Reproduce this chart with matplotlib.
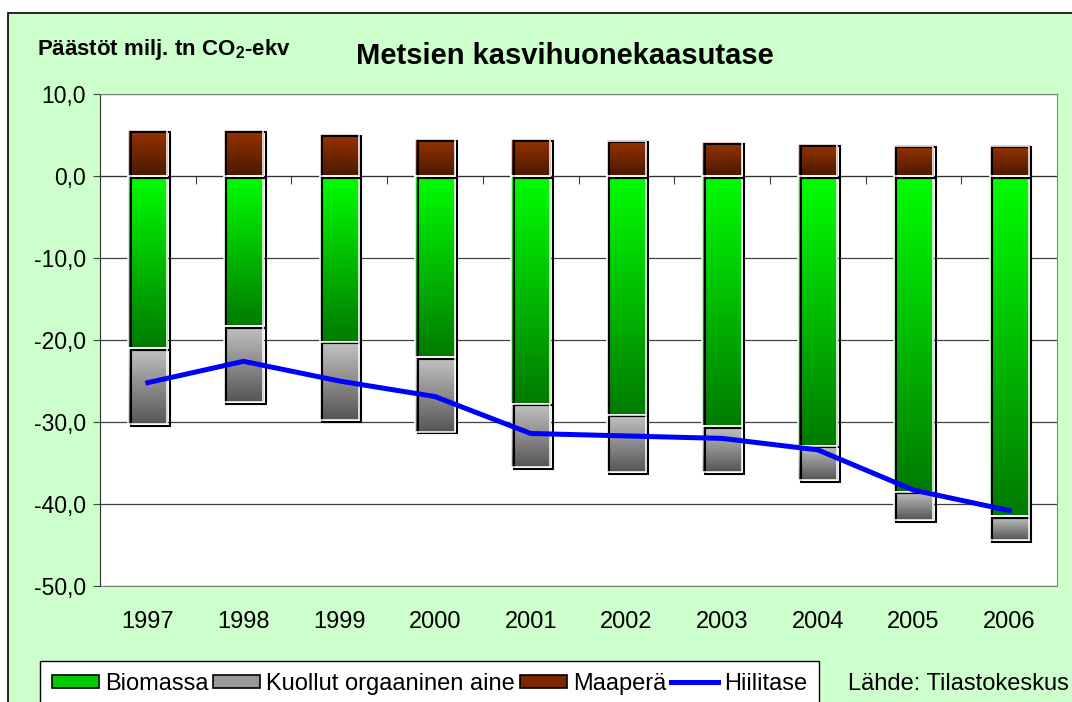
import matplotlib.pyplot as plt
import numpy as np
import matplotlib.patheffects as pe
from matplotlib.patches import Rectangle, Patch
from matplotlib.lines import Line2D
from matplotlib.colors import LinearSegmentedColormap
from matplotlib.ticker import FuncFormatter

plt.rcParams['font.family'] = ['Liberation Sans', 'DejaVu Sans']
plt.rcParams['mathtext.fontset'] = 'custom'
plt.rcParams['mathtext.rm'] = 'Liberation Sans'
plt.rcParams['mathtext.bf'] = 'Liberation Sans:bold'

# data (milj. tn CO2-ekv)
years = ['1997', '1998', '1999', '2000', '2001', '2002', '2003', '2004', '2005', '2006']
biomassa = [-21.0, -18.3, -20.2, -22.1, -27.8, -29.1, -30.5, -32.9, -38.5, -41.5]
kuollut = [-9.3, -9.3, -9.6, -9.1, -7.7, -7.0, -5.6, -4.2, -3.5, -2.9]
maapera = [5.6, 5.6, 5.1, 4.5, 4.5, 4.3, 4.1, 3.9, 3.7, 3.7]
hiilitase = [-25.2, -22.6, -25.0, -26.9, -31.4, -31.7, -32.0, -33.4, -38.3, -40.8]

W, H = 1072, 702
fig = plt.figure(figsize=(W / 100, H / 100), dpi=100)
fig.patch.set_facecolor('white')
fig.add_artist(Rectangle((8 / W, -0.05), 1.1, 1 - 13 / H + 0.05, transform=fig.transFigure,
                         facecolor='#ccffcc', edgecolor='black', lw=1.2, zorder=-10))

ax = fig.add_axes([100 / W, 1 - 586 / H, 957 / W, 492 / H])
ax.set_facecolor('white')
x = np.arange(len(years))
bw = 0.41


def gradient_bars(bars, top, bottom):
    cmap = LinearSegmentedColormap.from_list('g', [top, bottom])
    grad = np.linspace(0, 1, 256).reshape(-1, 1)
    for b in bars:
        x0, y0, w, h = b.get_x(), b.get_y(), b.get_width(), b.get_height()
        lo, hi = min(y0, y0 + h), max(y0, y0 + h)
        ax.imshow(grad, cmap=cmap, aspect='auto', origin='upper',
                  extent=(x0, x0 + w, lo, hi), zorder=2, interpolation='bilinear')
        b.set_facecolor('none')
        b.set_edgecolor('white')
        b.set_linewidth(1.1)
        b.set_zorder(3)
        b.set_path_effects([pe.Stroke(offset=(1.8, -1.1), linewidth=1.5, foreground='black'),
                            pe.Normal()])


bio = ax.bar(x, biomassa, bw)
gradient_bars(bio, '#00ff00', '#007a00')
kuo = ax.bar(x, kuollut, bw, bottom=biomassa)
gradient_bars(kuo, '#c4c4c4', '#555555')
maa = ax.bar(x, maapera, bw)
gradient_bars(maa, '#993300', '#4a1800')

ax.plot(x, hiilitase, color='#0000ff', lw=3.6, zorder=6, solid_joinstyle='round')

ax.set_xlim(-0.5, len(years) - 0.5)
ax.set_ylim(-50, 10)
ax.set_yticks(np.arange(-50, 11, 10))
ax.yaxis.set_major_formatter(FuncFormatter(lambda v, p: f'{v:.1f}'.replace('.', ',')))
ax.tick_params(axis='y', labelsize=16.5, length=5, color='#404040', pad=5)
ax.yaxis.grid(True, color='#404040', lw=0.9)
ax.set_axisbelow(True)

# category axis crosses at zero
ax.spines['bottom'].set_position(('data', 0))
ax.spines['bottom'].set_color('#303030')
ax.spines['bottom'].set_zorder(1)
ax.set_xticks(x[:-1] + 0.5)
ax.tick_params(axis='x', length=6, color='#404040', labelbottom=False, direction='out')
ax.spines['left'].set_color('#303030')
for s in ['top', 'right']:
    ax.spines[s].set_color('#808080')

sec = ax.secondary_xaxis(0)
sec.set_xticks(x)
sec.set_xticklabels(years)
sec.tick_params(length=0, labelsize=17, pad=18)
sec.spines['bottom'].set_color('#808080')

fig.text(37 / W, 1 - 50 / H, r'Päästöt milj. tn CO$_\mathbf{2}$-ekv', fontsize=16,
         fontweight='bold', ha='left', va='center')
fig.text(565 / W, 1 - 56 / H, 'Metsien kasvihuonekaasutase', fontsize=21,
         fontweight='bold', ha='center', va='center')

handles = [Patch(facecolor='#00cc00', edgecolor='black', lw=1.2),
           Patch(facecolor='#999999', edgecolor='black', lw=1.2),
           Patch(facecolor='#7a2800', edgecolor='black', lw=1.2),
           Line2D([], [], color='#0000ff', lw=3.6)]
labels = ['Biomassa', 'Kuollut orgaaninen aine', 'Maaperä', 'Hiilitase']
leg = fig.legend(handles, labels, loc='upper left', bbox_to_anchor=(40 / W, 1 - 661 / H),
                 ncol=4, fontsize=17, handlelength=2.0, handleheight=0.45,
                 handletextpad=0.25, columnspacing=0.2, borderaxespad=0, borderpad=0.5,
                 fancybox=False, edgecolor='black', framealpha=1)
leg.get_frame().set_linewidth(1.0)

fig.text(848 / W, 1 - 684 / H, 'Lähde: Tilastokeskus', fontsize=17, ha='left', va='center')

fig.savefig('out.png', dpi=100)
